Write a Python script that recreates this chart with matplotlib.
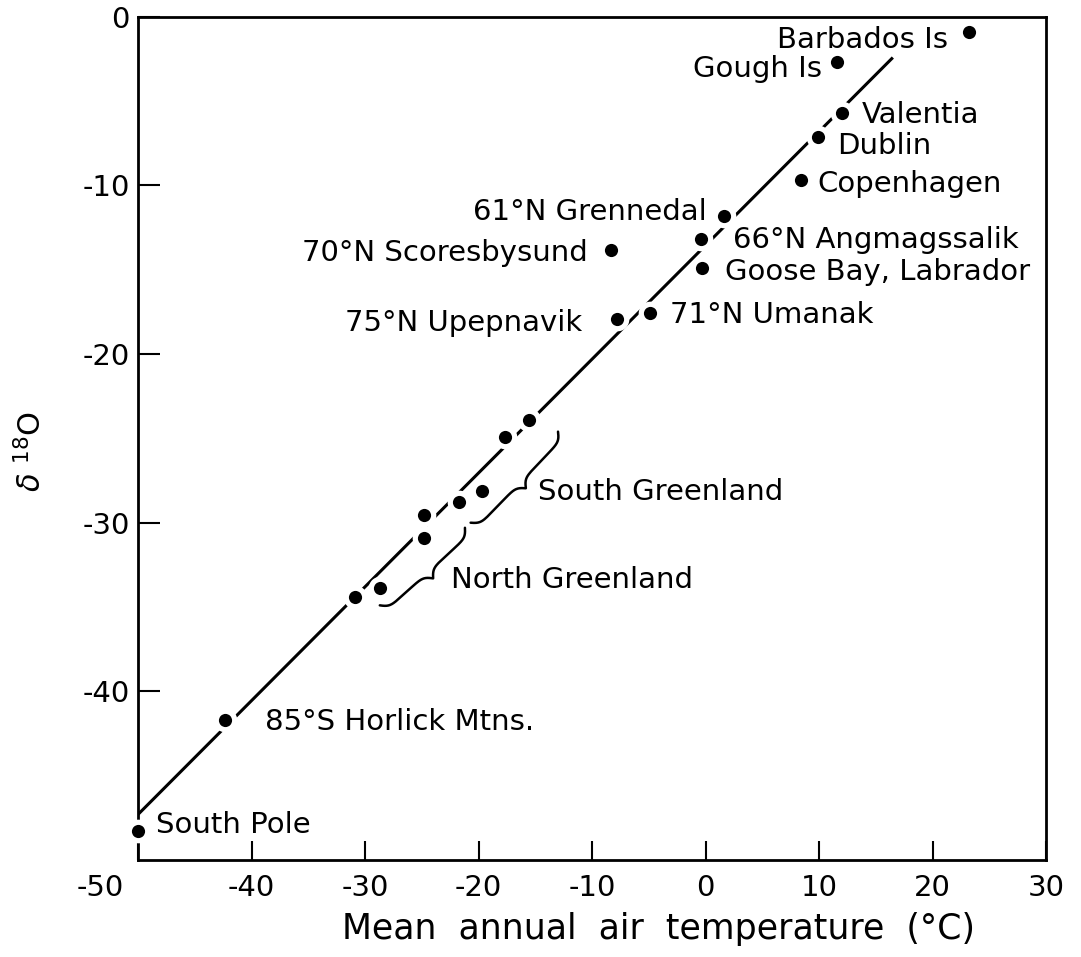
import numpy as np
import matplotlib.pyplot as plt
from matplotlib.transforms import ScaledTranslation

plt.rcParams['font.family'] = ['DejaVu Sans']
plt.rcParams['axes.unicode_minus'] = False

# coastal / island stations: mean annual air temperature (deg C) and delta 18O
stations = ['Barbados Is', 'Gough Is', 'Valentia', 'Dublin', 'Copenhagen',
            '61°N Grennedal', '66°N Angmagssalik', 'Goose Bay, Labrador',
            '70°N Scoresbysund', '71°N Umanak', '75°N Upepnavik',
            '85°S Horlick Mtns.', 'South Pole']
st_temp = [23.2, 11.6, 12.0, 9.9, 8.4, 1.6, -0.4, -0.3, -8.3, -4.9, -7.8, -42.3, -50.0]
st_d18o = [-0.9, -2.7, -5.7, -7.1, -9.7, -11.8, -13.2, -14.9, -13.8, -17.55, -17.9, -41.7, -48.3]

# ice sheet stations
sg_temp = [-15.6, -17.7, -19.7, -21.7]
sg_d18o = [-23.9, -24.9, -28.1, -28.8]
ng_temp = [-24.8, -24.8, -28.65, -30.9]
ng_d18o = [-29.55, -30.9, -33.9, -34.4]

# regression line d18O = a*T + b
fit_slope = 0.675
fit_intercept = -13.55
fit_range = [-50, 16.5]

# label placement (pixels from the dot) and alignment
lab_dx = [-21, -15, 20, 19, 16, -17, 32, 23, -24, 20, -35, 40, 18]
lab_dy = [-5, -4, 1, -6, -1, 7, 2, -1, 0, 1, -1, 1, 9]
lab_ha = ['right', 'right', 'left', 'left', 'left', 'right', 'left', 'left',
          'right', 'left', 'right', 'left', 'left']

xticks = [-50, -40, -30, -20, -10, 0, 10, 20, 30]
yticks = [-40, -30, -20, -10, 0]


def draw_brace(ax, p0, p1, width=16, beta=0.3):
    # curly brace between two data points, tip pointing to the right of p0->p1
    trans = ax.transData
    a = trans.transform(p0)
    b = trans.transform(p1)
    vec = b - a
    L = np.hypot(*vec)
    u = vec / L
    n = np.array([-u[1], u[0]])
    s = np.linspace(0, L / 2, 120)
    half = 1 / (1 + np.exp(-beta * s)) + 1 / (1 + np.exp(-beta * (s - L / 2)))
    prof = np.concatenate([half, half[-2::-1]]) - 0.5
    t = np.concatenate([s, L - s[-2::-1]])
    pts = a + np.outer(t, u) + np.outer(prof * width, n)
    data = trans.inverted().transform(pts)
    ax.plot(data[:, 0], data[:, 1], color='black', lw=1.8, zorder=5,
            solid_capstyle='round')


fig = plt.figure(figsize=(10.81, 9.57), dpi=100)
ax = fig.add_axes([0.1277, 0.1014, 0.840, 0.881])
ax.set_xlim(-50, 30)
ax.set_ylim(-50, 0)

for sp in ax.spines.values():
    sp.set_linewidth(2.0)

fx = np.array(fit_range)
ax.plot(fx, fit_slope * fx + fit_intercept, color='black', lw=2.2, zorder=2,
        solid_capstyle='butt')

all_t = st_temp + sg_temp + ng_temp
all_d = st_d18o + sg_d18o + ng_d18o
# white halo breaks the line around each dot
ax.scatter(all_t, all_d, s=290, color='white', zorder=3, clip_on=False,
           linewidths=0)
ax.scatter(all_t, all_d, s=90, color='black', zorder=4, clip_on=False,
           linewidths=0)

for name, t, d, dx, dy, ha in zip(stations, st_temp, st_d18o, lab_dx, lab_dy, lab_ha):
    ax.annotate(name, (t, d), xytext=(dx, dy), textcoords='offset pixels',
                ha=ha, va='center_baseline', fontsize=21, zorder=6)

draw_brace(ax, (-13.0, -24.6), (-20.7, -30.0))
draw_brace(ax, (-21.2, -30.3), (-28.7, -34.9))
ax.text(-14.8, -28.0, 'South Greenland', ha='left', va='center_baseline', fontsize=21)
ax.text(-22.4, -33.2, 'North Greenland', ha='left', va='center_baseline', fontsize=21)

ax.set_xticks(xticks)
ax.set_yticks(yticks)
ax.tick_params(axis='x', direction='in', length=14, width=1.5, pad=10, labelsize=21)
ax.tick_params(axis='y', direction='in', length=16, width=1.5, pad=6, labelsize=21)

# the -50 label sits out at the corner
lab0 = ax.get_xticklabels()[0]
lab0.set_transform(lab0.get_transform() + ScaledTranslation(-0.38, 0, fig.dpi_scale_trans))

ax.set_xlabel('Mean  annual  air  temperature  (°C)', fontsize=25)
ax.xaxis.set_label_coords(0.573, -0.062)
ax.set_ylabel(r'$\delta\ ^{18}$O', fontsize=22)
ax.yaxis.set_label_coords(-0.10, 0.485)

fig.savefig('out.png', dpi=100)
